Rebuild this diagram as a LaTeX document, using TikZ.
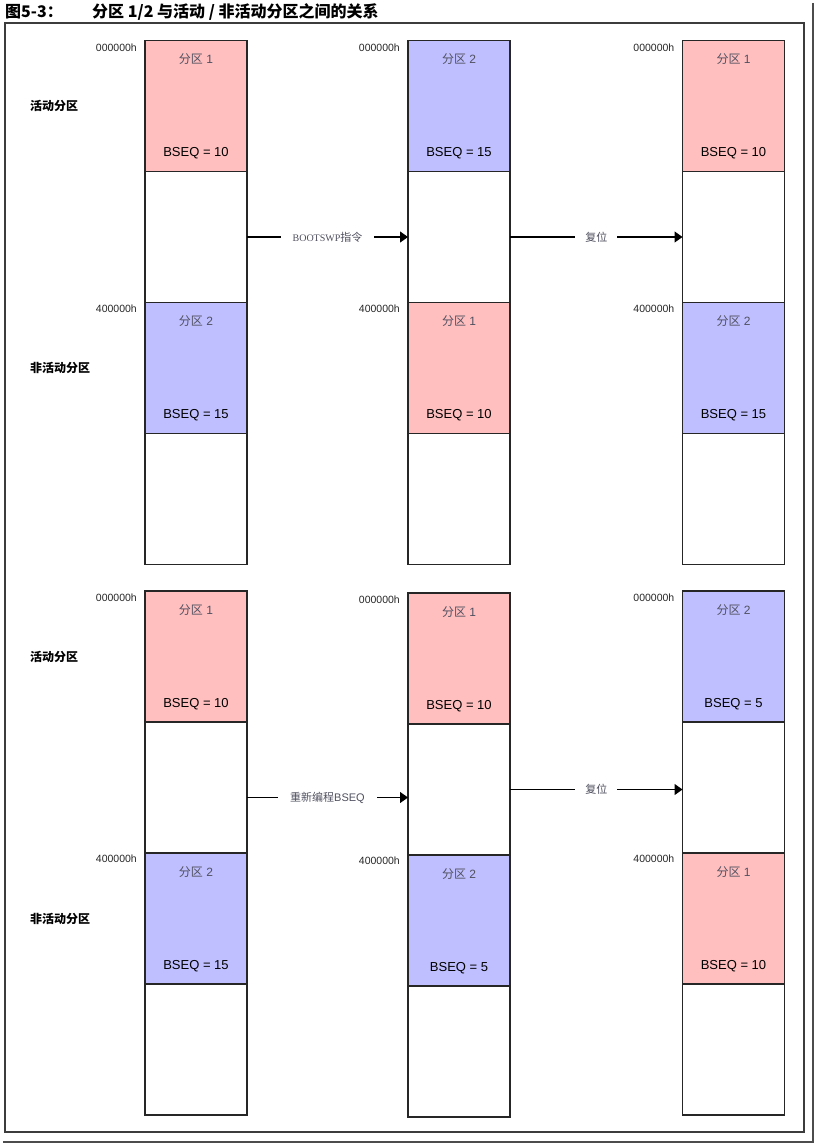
\documentclass[tikz,border=0pt]{standalone}
\usepackage{fontspec}
\setmainfont{Liberation Sans}
\newfontfamily\cjk{Noto Sans CJK SC}
\newfontfamily\cmdfont{Liberation Serif}
\usetikzlibrary{positioning,arrows.meta}
\definecolor{partred}{HTML}{FFBFBF}
\definecolor{partblue}{HTML}{BFBFFF}
\definecolor{frameline}{HTML}{3C3C3C}
\definecolor{labgrey}{HTML}{505060}

\begin{document}
\begin{tikzpicture}[x=1pt, y=-1pt,
  seg/.style={draw=black!85, line width=1.2pt, minimum width=102pt, minimum height=131pt,
              inner sep=0pt, outer sep=0pt},
  pr/.style={seg, fill=partred},
  pb/.style={seg, fill=partblue},
  addr/.style={font=\fontsize{10.5}{12}\selectfont, text=black!85, inner sep=0pt, anchor=east},
  side/.style={font=\cjk\bfseries\fontsize{12}{14}\selectfont, inner sep=0pt, anchor=west},
  part/.style={font=\fontsize{12}{14}\selectfont, text=labgrey, inner sep=0pt},
  bseq/.style={font=\fontsize{13}{15}\selectfont, inner sep=0pt},
  arr/.style={-{Triangle[length=8pt, width=11pt]}, line width=1.2pt},
  lab/.style={font=\fontsize{11}{13}\selectfont, text=labgrey, fill=white, inner xsep=12pt, inner ysep=2pt}
]
\useasboundingbox (0,0) rectangle (817,1145);
% ----- frame and title -----
\draw[frameline, line width=1.3pt] (5,23) rectangle (804,1132);
\draw[black!70, line width=2.5pt] (813,3) -- (813,1142) -- (3,1142);
\node[font=\cjk\bfseries\fontsize{16}{18}\selectfont, anchor=west, inner sep=0pt] (fignum) at (5,12) {图5-3：};
\node[font=\cjk\bfseries\fontsize{16}{18}\selectfont, anchor=west, inner sep=0pt] (figtitle) at (92,12)
  {分区 1/2 与活动 / 非活动分区之间的关系};
% ----- upper row: BOOTSWP, then reset -----
\node[pr]  (u1a) at (196,106)   {};
\node[seg] (u1b) at (196,237)   {};
\node[pb]  (u1c) at (196,368)   {};
\node[seg] (u1d) at (196,499)   {};
\node[pb]  (u2a) at (459,106)   {};
\node[seg] (u2b) at (459,237)   {};
\node[pr]  (u2c) at (459,368)   {};
\node[seg] (u2d) at (459,499)   {};
\node[pr]  (u3a) at (733.5,106) {};
\node[seg] (u3b) at (733.5,237) {};
\node[pb]  (u3c) at (733.5,368) {};
\node[seg] (u3d) at (733.5,499) {};
% ----- lower row: reprogram BSEQ, then reset -----
\node[pr]  (l1a) at (196,656.5)   {};
\node[seg] (l1b) at (196,787.5)   {};
\node[pb]  (l1c) at (196,918.5)   {};
\node[seg] (l1d) at (196,1049.5)  {};
\node[pr]  (l2a) at (459,658.5)   {};
\node[seg] (l2b) at (459,789.5)   {};
\node[pb]  (l2c) at (459,920.5)   {};
\node[seg] (l2d) at (459,1051.5)  {};
\node[pb]  (l3a) at (733.5,656.5) {};
\node[seg] (l3b) at (733.5,787.5) {};
\node[pr]  (l3c) at (733.5,918.5) {};
\node[seg] (l3d) at (733.5,1049.5){};
% ----- partition names and sequence numbers -----
\foreach \n/\p/\q in {u1a/1/10, u1c/2/15, u2a/2/15, u2c/1/10, u3a/1/10, u3c/2/15,
                      l1a/1/10, l1c/2/15, l2a/1/10, l2c/2/5, l3a/2/5, l3c/1/10}{
  \node[part, below=13pt of \n.north] (\n-name) {{\cjk 分区} \p};
  \node[bseq, above=12pt of \n.south] (\n-seq) {BSEQ = \q};
}
% ----- addresses -----
\foreach \n in {u1, u2, u3, l1, l2, l3}{
  \node[addr] (\n-lo) at ([xshift=-8pt, yshift=-7pt]\n a.north west) {000000h};
  \node[addr] (\n-hi) at ([xshift=-8pt, yshift=-6pt]\n c.north west) {400000h};
}
% ----- active / inactive -----
\node[side] (uact)  at (30,106)   {活动分区};
\node[side] (uinac) at (30,368)   {非活动分区};
\node[side] (lact)  at (30,656.5) {活动分区};
\node[side] (linac) at (30,918.5) {非活动分区};
% ----- transitions -----
\draw[arr] (u1b.east) -- node[lab] (swp) {{\cmdfont\fontsize{10}{12}\selectfont BOOTSWP}{\cjk 指令}} (u2b.west);
\draw[arr] (u2b.east) -- node[lab, inner xsep=10pt] (rst1) {\cjk 复位} (u3b.west);
\draw[arr] ([yshift=-10pt]l1b.east) -- node[lab] (prog) {{\cjk 重新编程}BSEQ} ([yshift=-8pt]l2b.west);
\draw[arr] (l2b.east) -- node[lab, inner xsep=10pt] (rst2) {\cjk 复位} ([yshift=-2pt]l3b.west);
\end{tikzpicture}
\end{document}
